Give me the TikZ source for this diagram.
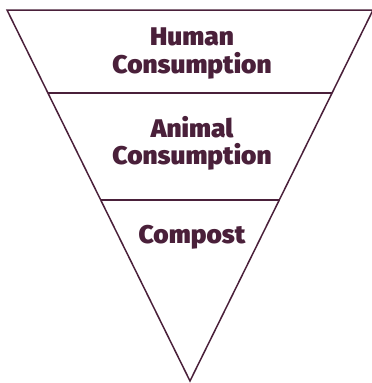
\documentclass[tikz,border=0pt]{standalone}
\usepackage{fontspec}
\newfontfamily\heavyfont{Fira Sans Black}[FakeStretch=1.03]
\definecolor{plum}{RGB}{74,32,58}
\tikzset{
	tierlabel/.style={text=plum,align=center,inner sep=0pt,anchor=base,
			font=\heavyfont\fontsize{25.5}{27}\selectfont},
	tierline/.style={draw=plum,line width=1.5pt}
}
\begin{document}
\begin{tikzpicture}[x=1pt,y=1pt]
	\useasboundingbox (0,0) rectangle (372,-383);
	\coordinate (topleft) at (7,-10);
	\coordinate (topright) at (373,-10);
	\coordinate (apex) at (190,-381);
	\draw[tierline,line join=miter] (topleft) -- (topright) -- (apex) -- cycle;
	\draw[tierline] (48,-93) coordinate (midleft) -- (332,-93) coordinate (midright);
	\draw[tierline] (100.7,-200) coordinate (lowleft) -- (279.3,-200) coordinate (lowright);
	\node[tierlabel] (human) at (192,-45) {Human};
	\node[tierlabel] (humancons) at (192,-73) {Consumption};
	\node[tierlabel] (animal) at (192,-137) {Animal};
	\node[tierlabel] (animalcons) at (192,-164) {Consumption};
	\node[tierlabel] (compost) at (192,-243) {Compost};
\end{tikzpicture}
\end{document}
